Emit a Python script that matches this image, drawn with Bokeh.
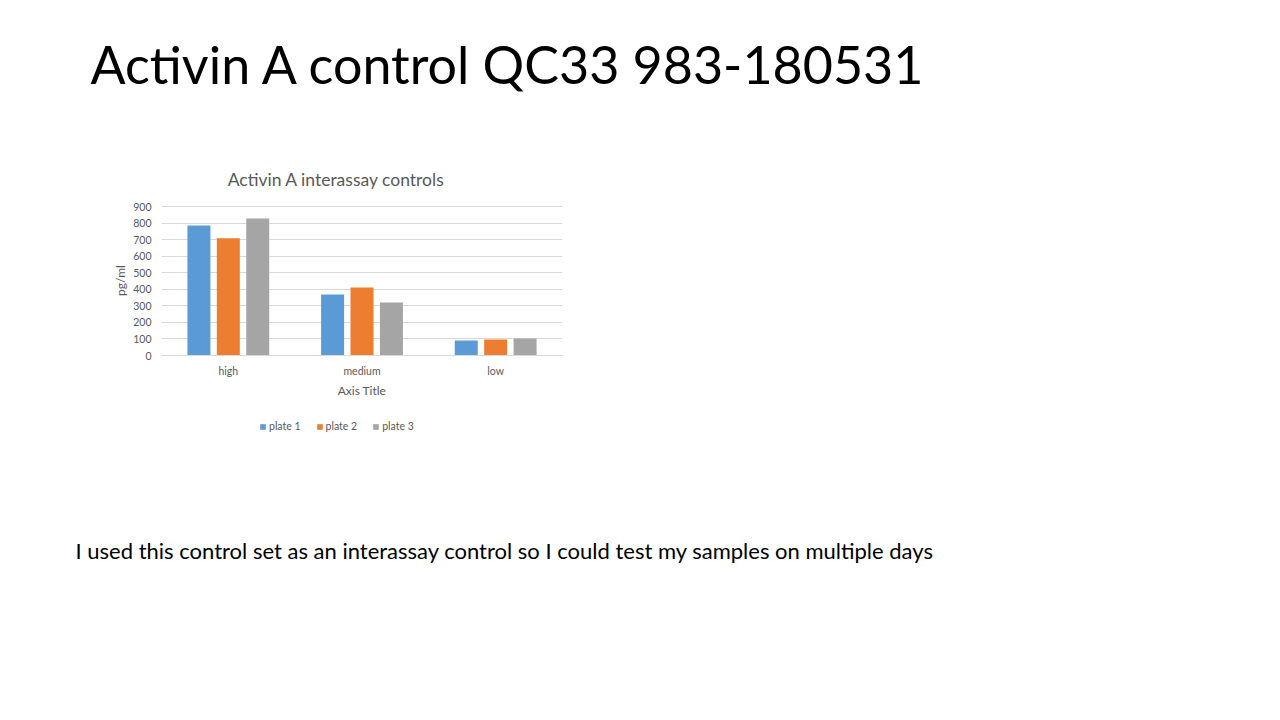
from bokeh.plotting import figure
from bokeh.models import (ColumnDataSource, FactorRange, Range1d, Legend, Label,
                          LegendItem, FixedTicker, Title)
from bokeh.transform import dodge
from bokeh.embed import file_html
from bokeh.resources import INLINE

# ---- data ----
categories = ["high", "medium", "low"]
plate1 = [785, 368, 90]
plate2 = [708, 410, 97]
plate3 = [827, 320, 103]
series_names = ["plate 1", "plate 2", "plate 3"]
y_ticks = [0, 100, 200, 300, 400, 500, 600, 700, 800, 900]
y_min, y_max = 0, 900

slide_title = "Activin A control QC33 983-180531"
chart_title = "Activin A interassay controls"
x_title = "Axis Title"
y_title = "pg/ml"
note = "I used this control set as an interassay control so I could test my samples on multiple days"

colors = ["#5B9BD5", "#ED7D31", "#A5A5A5"]
FONT = "Lato"
TXT = "#595959"

# ---- geometry (canvas px) ----
W, H = 1264, 704
PL, PR = 161, 562          # plot area left/right
P_TOP, P_BOT = 206, 355    # y of y_max / y_min
FT, FB = 120, 440          # drawing frame (taller than plot area, centred on y label)
k = (P_BOT - P_TOP) / (y_max - y_min)
y_start = y_min - (FB - P_BOT) / k
y_end = y_max + (P_TOP - FT) / k

src = ColumnDataSource(dict(cat=categories, p1=plate1, p2=plate2, p3=plate3))
p = figure(width=W, height=H, x_range=FactorRange(*categories, range_padding=0),
           y_range=Range1d(y_start, y_end), output_backend="svg", toolbar_location=None,
           min_border_left=PL, min_border_right=W - PR,
           min_border_top=FT, min_border_bottom=H - FB)
p.outline_line_color = None
p.background_fill_color = None
p.border_fill_color = "white"

bw = 0.172
offs = [-0.22, 0.0, 0.22]
renderers = []
for col, off, c in zip(["p1", "p2", "p3"], offs, colors):
    r = p.vbar(x=dodge("cat", off, range=p.x_range), top=col, width=bw, source=src,
               fill_color=c, line_color=None)
    renderers.append(r)

p.xgrid.grid_line_color = None
p.ygrid.grid_line_color = "#D9D9D9"
p.ygrid.ticker = FixedTicker(ticks=y_ticks)
p.yaxis.ticker = FixedTicker(ticks=y_ticks)
p.yaxis.bounds = (y_min, y_max)
p.yaxis.axis_line_color = None
p.yaxis.major_tick_line_color = None
p.yaxis.minor_tick_line_color = None
p.yaxis.major_label_standoff = 4
p.yaxis.axis_label = y_title
p.yaxis.axis_label_standoff = 2
p.xaxis.fixed_location = y_min
p.xaxis.axis_line_color = "#D9D9D9"
p.xaxis.major_tick_line_color = None
p.xaxis.major_label_standoff = 3
p.xaxis.axis_label = x_title
p.xaxis.axis_label_standoff = 3
for ax in (p.xaxis[0], p.yaxis[0]):
    ax.major_label_text_font = FONT
    ax.major_label_text_font_size = "10.5px"
    ax.major_label_text_color = TXT
    ax.axis_label_text_font = FONT
    ax.axis_label_text_font_size = "12px"
    ax.axis_label_text_font_style = "normal"
    ax.axis_label_text_color = TXT

# chart title inside the (tall) frame
p.add_layout(Label(x=336 - PL, y=FB - 179, x_units="screen", y_units="screen", text=chart_title,
                   text_align="center", text_baseline="middle", text_font=FONT,
                   text_font_size="17.5px", text_color=TXT))

legend = Legend(items=[LegendItem(label=n, renderers=[r]) for n, r in zip(series_names, renderers)],
                orientation="horizontal", location=(259 - PL, FB - 432),
                glyph_width=7, glyph_height=7, label_standoff=3, spacing=15,
                padding=0, margin=0, border_line_color=None, background_fill_alpha=0,
                label_text_font=FONT, label_text_font_size="10.5px", label_text_color=TXT,
                label_height=10)
p.add_layout(legend, "center")

# slide title above the frame
p.add_layout(Title(text=slide_title, align="left", offset=90 - PL, standoff=52,
                   vertical_align="bottom",
                   text_font=FONT, text_font_size="52px", text_font_style="normal",
                   text_color="#000000"), "above")

# note below the frame
p.add_layout(Title(text=note, align="left", offset=75 - PL, standoff=188,
                   vertical_align="bottom",
                   text_font=FONT, text_font_size="22px", text_font_style="normal",
                   text_color="#000000"), "below")

open("out.html", "w").write(file_html(p, INLINE))
